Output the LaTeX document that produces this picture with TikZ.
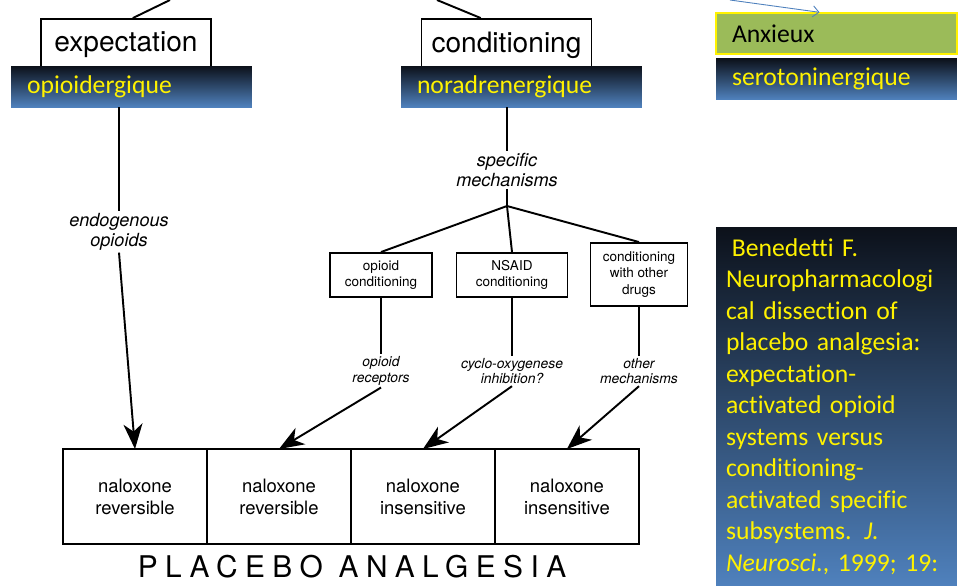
\documentclass[tikz,border=0pt]{standalone}
\usepackage{fontspec}
\setmainfont[Ligatures=NoCommon]{Carlito}
\newfontfamily\figfont{TeX Gyre Heros}
\newfontfamily\titlefont[LetterSpace=25]{TeX Gyre Heros}
\usepackage{xcolor}
\usepackage{tikz}
\usetikzlibrary{arrows.meta, positioning, calc}
\definecolor{barTop}{RGB}{12,17,26}
\definecolor{barMid}{RGB}{50,84,132}
\definecolor{barBot}{RGB}{79,129,189}
\definecolor{anxGreen}{RGB}{155,187,89}
\definecolor{linkBlue}{RGB}{79,129,189}
\tikzset{
  topbox/.style   = {rectangle, draw, line width=1.1pt, minimum width=3.4cm,
                     minimum height=1.04cm, font=\figfont\fontsize{16}{19}\selectfont},
  smallbox/.style = {rectangle, draw, line width=1.1pt, align=center, inner sep=0pt,
                     font=\figfont\fontsize{7.7}{9.4}\selectfont},
  resbox/.style   = {rectangle, draw, line width=1.1pt, outer sep=0pt, minimum width=2.88cm,
                     minimum height=1.9cm, align=center, font=\figfont\fontsize{10.5}{12.5}\selectfont},
  biglabel/.style = {align=center, inner sep=1pt, font=\figfont\itshape\fontsize{10.3}{11.3}\selectfont},
  smalllabel/.style = {align=center, inner sep=1pt, font=\figfont\itshape\fontsize{7.9}{9}\selectfont},
  bar/.style      = {rectangle, top color=barTop, middle color=barMid, bottom color=barBot,
                     minimum width=4.82cm, minimum height=0.82cm, inner xsep=0.32cm, inner ysep=0pt,
                     text width=4.18cm, align=left, text=yellow, font=\fontsize{14.6}{17.9}\selectfont},
  anxbar/.style   = {bar, top color=anxGreen, bottom color=anxGreen, middle color=anxGreen,
                     draw=yellow, line width=0.8pt, text=black},
  refbox/.style   = {rectangle, top color=barTop, middle color=barMid, bottom color=barBot,
                     minimum width=4.82cm, minimum height=7.18cm, inner xsep=0.2cm,
                     text width=4.42cm, align=left, text=yellow, font=\fontsize{14.6}{17.9}\selectfont},
  line/.style     = {line width=1.1pt},
  arrow/.style    = {line width=1.1pt, -{Stealth[length=0.5cm, width=0.38cm, inset=0.15cm]}},
  thinarrow/.style = {draw=linkBlue, line width=0.5pt, -{Straight Barb[length=0.12cm, width=0.22cm]}},
}

\begin{document}
\begin{tikzpicture}[x=0.02cm, y=-0.02cm, every node/.style={font=\figfont}]
    \fill[white] (0,0) rectangle (960,586);
    \useasboundingbox (0,0) rectangle (960,586);

    %% Top boxes (partly hidden under the bars)
    \node[topbox] (exp)  at (126, 45)   {expectation};
    \node[topbox] (cond) at (506.5, 45) {conditioning};
    \coordinate (upL) at (170, 0);
    \coordinate (upR) at (437, 0);
    \coordinate (upA) at (730, 0);
    \draw[line] ($(exp.north west)!0.54!(exp.north east)$) -- (upL);
    \draw[line] ($(cond.north west)!0.35!(cond.north east)$) -- (upR);

    %% Slide bars
    \node[bar]    (opi)  at (131.5, 86.5) {opioidergique};
    \node[bar]    (nor)  at (521.5, 86.5) {noradrenergique};
    \node[anxbar] (anx)  at (836.5, 33.5) {Anxieux};
    \node[bar]    (sero) at (836.5, 79)   {serotoninergique};
    \draw[thinarrow] (upA) -- ($(anx.north west)!0.43!(anx.north east)$);

    %% Left branch
    \node[biglabel] (endo) at (119, 232) {endogenous\\opioids};

    %% Right branch
    \node[biglabel] (spec) at (507, 170) {specific\\mechanisms};
    \coordinate (split) at (507, 206);
    \node[smallbox, minimum width=2.04cm, minimum height=0.88cm] (opc) at (381, 275)   {opioid\\conditioning};
    \node[smallbox, minimum width=2.22cm, minimum height=0.88cm] (nsc) at (512, 275)   {NSAID\\conditioning};
    \node[smallbox, minimum width=1.94cm, minimum height=1.26cm] (otc) at (639, 274.5) {conditioning\\with other\\drugs};

    \node[smalllabel] (rec) at (381, 371) {opioid\\receptors};
    \node[smalllabel] (cox) at (512, 371) {cyclo-oxygenese\\inhibition?};
    \node[smalllabel] (oth) at (639, 371) {other\\mechanisms};

    %% Result row
    \node[resbox] (nal1) at (135, 496.5)     {naloxone\\reversible};
    \node[resbox, right=0cm of nal1] (nal2) {naloxone\\reversible};
    \node[resbox, right=0cm of nal2] (nal3) {naloxone\\insensitive};
    \node[resbox, right=0cm of nal3] (nal4) {naloxone\\insensitive};
    \node[font=\titlefont\fontsize{17}{20}\selectfont] (title) at (352, 567) {PLACEBO ANALGESIA};

    %% Connectors
    \draw[line]  (opi.south -| endo.north) -- (endo.north);
    \draw[arrow] (endo.south) -- (nal1.north);
    \draw[line]  (nor.south -| spec.north) -- (spec.north);
    \draw[line]  (spec.south) -- (split);
    \draw[line]  (split) -- (opc.north);
    \draw[line]  (split) -- (nsc.north);
    \draw[line]  (split) -- (otc.north);
    \draw[line]  (opc.south) -- (rec.north);
    \draw[line]  (nsc.south) -- (cox.north);
    \draw[line]  (otc.south) -- (oth.north);
    \draw[arrow] (rec.south) -- (nal2.north);
    \draw[arrow] (cox.south) -- (nal3.north);
    \draw[arrow] (oth.south) -- (nal4.north);

    %% Reference
    \node[refbox] (ref) at (836.5, 406.5)
         {\hspace*{0.23em}Benedetti F.\\Neuropharmacologi\\cal dissection of\\placebo analgesia:\\expectation-\\activated opioid\\systems versus\\conditioning-\\activated specific\\subsystems. \textit{J.}\\\textit{Neurosci.}, 1999; 19:};

  \end{tikzpicture}
\end{document}
